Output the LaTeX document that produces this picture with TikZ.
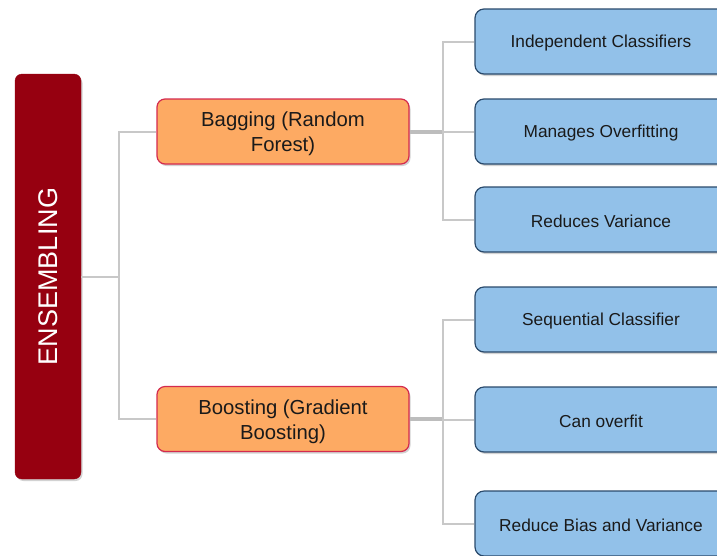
\documentclass[tikz,border=0pt]{standalone}
\usepackage{fontspec}
\setmainfont{Liberation Sans}
\usetikzlibrary{shadows}
\definecolor{ensred}{HTML}{960010}
\definecolor{orfill}{HTML}{FDAA63}
\definecolor{ordraw}{HTML}{D42A4E}
\definecolor{blfill}{HTML}{92C1E9}
\definecolor{bldraw}{HTML}{2A4A6C}
\definecolor{conn}{HTML}{C8C8C8}
\definecolor{connd}{HTML}{BDBDBD}
\definecolor{txt}{HTML}{1A1A1A}
\tikzset{
  shad/.style={drop shadow={shadow xshift=1.5pt,shadow yshift=-2pt,opacity=0.25,fill=black!70}},
  ensbox/.style={shad,draw=ensred,fill=ensred,rounded corners=7pt,minimum width=66pt,minimum height=405pt,inner sep=0pt},
  midbox/.style={shad,draw=ordraw,line width=1.2pt,fill=orfill,rounded corners=8pt,minimum width=252pt,minimum height=65pt,inner sep=0pt,align=center},
  leafbox/.style={shad,draw=bldraw,line width=1.2pt,fill=blfill,rounded corners=9pt,minimum width=252pt,minimum height=65pt,inner sep=0pt},
  midtext/.style={align=center,text=txt,font=\fontsize{20.3}{25}\selectfont,inner sep=0pt},
  leaftext/.style={text=txt,font=\fontsize{17.3}{20}\selectfont,inner sep=0pt},
  thinline/.style={draw=conn,line width=2pt},
  thickline/.style={draw=connd,line width=4pt},
}
\begin{document}
\begin{tikzpicture}[x=1pt,y=1pt]
\useasboundingbox (0,0) rectangle (717,-555);
\begin{scope}
\clip (0,0) rectangle (717,-555);
\coordinate (j0) at (119,-277);
\coordinate (j1) at (443,-131.5);
\coordinate (j2) at (443,-419);
\node[ensbox] (ens) at (48,-276.5) {};
\node[midbox] (bag) at (283,-131.5) {};
\node[midbox] (boo) at (283,-419) {};
\node[leafbox] (b1) at (601,-41.5) {};
\node[leafbox] (b2) at (601,-131.5) {};
\node[leafbox] (b3) at (601,-219.5) {};
\node[leafbox] (c1) at (601,-319.5) {};
\node[leafbox] (c2) at (601,-419.5) {};
\node[leafbox] (c3) at (601,-523.5) {};
\node[midtext] (bagt) at ([yshift=-2.5pt]bag.center) {Bagging (Random\\Forest)};
\node[midtext] (boot) at ([yshift=-2.5pt]boo.center) {Boosting (Gradient\\Boosting)};
\node[leaftext] (b1t) at ([yshift=-1.5pt]b1.center) {Independent Classifiers};
\node[leaftext] (b2t) at ([yshift=-1.5pt]b2.center) {Manages Overfitting};
\node[leaftext] (b3t) at ([yshift=-1.5pt]b3.center) {Reduces Variance};
\node[leaftext] (c1t) at ([yshift=-1.5pt]c1.center) {Sequential Classifier};
\node[leaftext] (c2t) at ([yshift=-1.5pt]c2.center) {Can overfit};
\node[leaftext] (c3t) at ([yshift=-1.5pt]c3.center) {Reduce Bias and Variance};
\path[thinline] (ens.east |- j0) -- (j0);
\path[thinline] (j0) |- (bag.west);
\path[thinline] (j0) |- (boo.west);
\path[thickline] (bag.east) -- (j1);
\path[thinline] (j1) |- (b1.west);
\path[thinline] (j1) -- (b2.west);
\path[thinline] (j1) |- (b3.west);
\path[thickline] (boo.east) -- (j2);
\path[thinline] (j2) |- (c1.west);
\path[thinline] (j2) |- (c2.west);
\path[thinline] (j2) |- (c3.west);
\node[rotate=90,text=white,font=\fontsize{27}{30}\selectfont] (enslabel) at (ens.center) {ENSEMBLING};
\end{scope}
\end{tikzpicture}
\end{document}
